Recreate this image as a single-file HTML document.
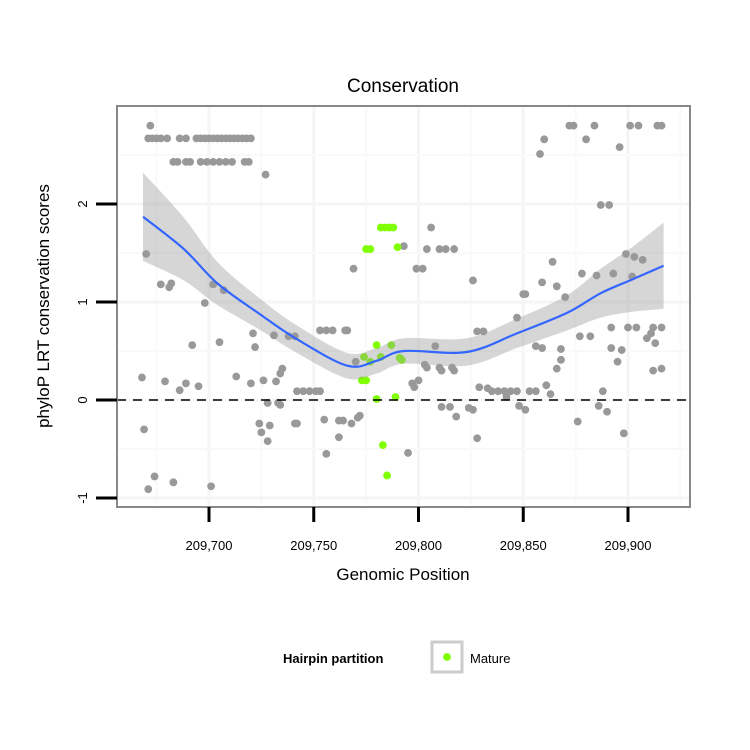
<!DOCTYPE html>
<html><head><meta charset="utf-8"><style>
body{margin:0;background:#fff}
svg{display:block;font-family:"Liberation Sans",sans-serif}
</style></head><body>
<svg id="c" width="750" height="750" viewBox="0 0 750 750"></svg>
<script>
const grayX=[209672,209671,209673,209675,209677,209680,209686,209689,209694,209696,209698,209700,209702,209704,209706,209708,209710,209712,209714,209716,209718,209720,
209683,209685,209689,209691,209696,209699,209702,209705,209708,209711,209717,209719,209727,
209670,209677,209681,209682,209698,209702,209707,209692,209705,209721,209731,209738,209741,209722,209753,209756,209759,209765,209766,209770,209735,209734,
209668,209679,209686,209689,209695,209713,209720,209726,209732,209742,209745,209748,209751,209753,209728,209733,209734,
209724,209729,209725,209728,209741,209742,209755,209762,209764,209768,209771,209772,209756,209762,209669,209674,209671,209683,209701,209795,
209769,209793,209799,209802,
209872,209874,209884,209901,209905,209914,209916,209860,209880,209896,209858,209887,209891,209806,209804,209810,209813,209817,209864,209899,209903,209907,
209878,209885,209893,209902,209826,209859,209866,209870,209850,209851,209847,209892,209900,209904,209912,209916,209828,209831,209877,209882,209909,209911,209913,
209856,209859,209897,209892,209808,209868,209868,209866,209895,209803,209804,209810,209811,209816,209817,209912,209916,209829,209833,
209835,209838,209841,209844,209847,209853,209856,209861,209863,209888,209886,209890,209876,209898,209797,209800,209798,209811,209815,209818,209824,209826,209828,209848,209851,209842];
const grayY=[2.8,2.67,2.67,2.67,2.67,2.67,2.67,2.67,2.67,2.67,2.67,2.67,2.67,2.67,2.67,2.67,2.67,2.67,2.67,2.67,2.67,2.67,
2.43,2.43,2.43,2.43,2.43,2.43,2.43,2.43,2.43,2.43,2.43,2.43,2.3,
1.49,1.18,1.15,1.19,0.99,1.18,1.12,0.56,0.59,0.68,0.66,0.65,0.65,0.54,0.71,0.71,0.71,0.71,0.71,0.39,0.32,0.27,
0.23,0.19,0.10,0.17,0.14,0.24,0.17,0.20,0.19,0.09,0.09,0.09,0.09,0.09,-0.03,-0.03,-0.05,
-0.24,-0.26,-0.33,-0.42,-0.24,-0.24,-0.2,-0.21,-0.21,-0.24,-0.18,-0.16,-0.55,-0.38,-0.3,-0.78,-0.91,-0.84,-0.88,-0.54,
1.34,1.57,1.34,1.34,
2.8,2.8,2.8,2.8,2.8,2.8,2.8,2.66,2.66,2.58,2.51,1.99,1.99,1.76,1.54,1.54,1.54,1.54,1.41,1.49,1.46,1.43,
1.29,1.27,1.29,1.26,1.22,1.2,1.16,1.05,1.08,1.08,0.84,0.74,0.74,0.74,0.74,0.74,0.7,0.7,0.65,0.65,0.63,0.68,0.58,
0.55,0.53,0.51,0.53,0.55,0.52,0.41,0.32,0.39,0.36,0.33,0.33,0.30,0.33,0.30,0.3,0.32,0.13,0.12,
0.09,0.09,0.09,0.09,0.09,0.09,0.09,0.15,0.06,0.09,-0.06,-0.12,-0.22,-0.34,0.17,0.2,0.13,-0.07,-0.07,-0.17,-0.08,-0.1,-0.39,-0.06,-0.1,0.03];
const greenX=[209782,209784,209786,209788,209775,209777,209790,209780,209787,209774,209777,209782,209791,209792,209773,209775,209780,209789,209783,209785];
const greenY=[1.76,1.76,1.76,1.76,1.54,1.54,1.56,0.56,0.56,0.44,0.39,0.44,0.43,0.41,0.2,0.2,0.01,0.03,-0.46,-0.77];
const fitX=[209668.5,209688,209704,209724,209742,209766,209780,209793,209823,209847,209871,209887,209902,209917];
const fitY=[1.87,1.54,1.19,0.88,0.62,0.35,0.40,0.50,0.49,0.68,0.89,1.09,1.23,1.37];
const fitSE=[0.45,0.32,0.22,0.16,0.14,0.13,0.13,0.13,0.14,0.15,0.18,0.25,0.33,0.44];
const xTicks=[209700,209750,209800,209850,209900];
const xTickLabels=["209,700","209,750","209,800","209,850","209,900"];
const yTicks=[2,1,0,-1];
const yTickLabels=["2","1","0","-1"];

const L=117,R=690,T=106,B=507;
const sx=v=>209+(v-209700)*2.095;
const sy=v=>400-v*98;
const NS="http://www.w3.org/2000/svg";
const svg=document.getElementById('c');
function mk(tag,attrs,parent){const e=document.createElementNS(NS,tag);for(const k in attrs)e.setAttribute(k,attrs[k]);(parent||svg).appendChild(e);return e;}

const title=mk('text',{x:403,y:92,'text-anchor':'middle','font-size':19});title.textContent='Conservation';



const grid=mk('g',{});


xTicks.forEach(t=>{mk('line',{x1:sx(t),x2:sx(t),y1:T,y2:B,stroke:'#f5f5f5','stroke-width':3},grid);mk('line',{x1:sx(t-25),x2:sx(t-25),y1:T,y2:B,stroke:'#f9f9f9','stroke-width':2},grid);});
mk('line',{x1:sx(209925),x2:sx(209925),y1:T,y2:B,stroke:'#f9f9f9','stroke-width':2},grid);
yTicks.forEach(t=>{mk('line',{x1:L,x2:R,y1:sy(t),y2:sy(t),stroke:'#f5f5f5','stroke-width':3},grid);mk('line',{x1:L,x2:R,y1:sy(t+0.5),y2:sy(t+0.5),stroke:'#f9f9f9','stroke-width':2},grid);});
mk('line',{x1:L,x2:R,y1:sy(-0.5),y2:sy(-0.5),stroke:'#f9f9f9','stroke-width':2},grid);

const pts=mk('g',{});


grayX.forEach((x,i)=>{const c=mk('circle',{cx:sx(x),cy:sy(grayY[i]),r:3.9,fill:'#999'},pts);

});
const gpts=mk('g',{});


greenX.forEach((x,i)=>{const c=mk('circle',{cx:sx(x),cy:sy(greenY[i]),r:3.9,fill:'#7fff00'},gpts);

});

function smooth(xs,ys){let d=`M${xs[0]},${ys[0]}`;for(let i=0;i<xs.length-1;i++){const x0=xs[Math.max(i-1,0)],y0=ys[Math.max(i-1,0)],x1=xs[i],y1=ys[i],x2=xs[i+1],y2=ys[i+1],x3=xs[Math.min(i+2,xs.length-1)],y3=ys[Math.min(i+2,xs.length-1)];d+=` C${x1+(x2-x0)/6},${y1+(y2-y0)/6} ${x2-(x3-x1)/6},${y2-(y3-y1)/6} ${x2},${y2}`;}return d;}
const px=fitX.map(sx);
const up=fitY.map((v,i)=>sy(v+fitSE[i])), lo=fitY.map((v,i)=>sy(v-fitSE[i]));
let bd=smooth(px,up);const rpx=px.slice().reverse(),rlo=lo.slice().reverse();bd+=' L'+smooth(rpx,rlo).slice(1)+' Z';
const band=mk('path',{d:bd,fill:'#999','fill-opacity':0.4});


const line=mk('path',{d:smooth(px,fitY.map(sy)),fill:'none',stroke:'#3366ff','stroke-width':2.2});



const zl=mk('line',{x1:L,x2:R,y1:sy(0),y2:sy(0),stroke:'#000','stroke-width':1.6,'stroke-dasharray':'9,7'});



const frame=mk('rect',{x:L,y:T,width:R-L,height:B-T,fill:'none',stroke:'#888','stroke-width':2});



xTicks.forEach((t,i)=>{mk('line',{x1:sx(t),x2:sx(t),y1:507,y2:522,stroke:'#000','stroke-width':3});
const tx=mk('text',{x:sx(t),y:550,'text-anchor':'middle','font-size':13});tx.textContent=xTickLabels[i];

});
yTicks.forEach((t,i)=>{mk('line',{x1:96,x2:117,y1:sy(t),y2:sy(t),stroke:'#000','stroke-width':3});
const tx=mk('text',{x:0,y:0,'text-anchor':'middle','font-size':13,transform:`translate(87,${sy(t)}) rotate(-90)`});tx.textContent=yTickLabels[i];

});

const xt=mk('text',{x:403,y:580,'text-anchor':'middle','font-size':17});xt.textContent='Genomic Position';


const yt=mk('text',{x:0,y:0,'text-anchor':'middle','font-size':17,transform:'translate(49,306) rotate(-90)'});yt.textContent='phyloP LRT conservation scores';



const lg=mk('g',{});


const lt=mk('text',{x:283,y:663,'font-size':13,'font-weight':'bold'},lg);lt.textContent='Hairpin partition';
mk('rect',{x:432,y:642,width:30,height:30,fill:'#fff',stroke:'#ccc','stroke-width':3},lg);
mk('circle',{cx:447,cy:657,r:3.9,fill:'#7fff00'},lg);
const le=mk('text',{x:470,y:663,'font-size':13},lg);le.textContent='Mature';


</script>
</body></html>
